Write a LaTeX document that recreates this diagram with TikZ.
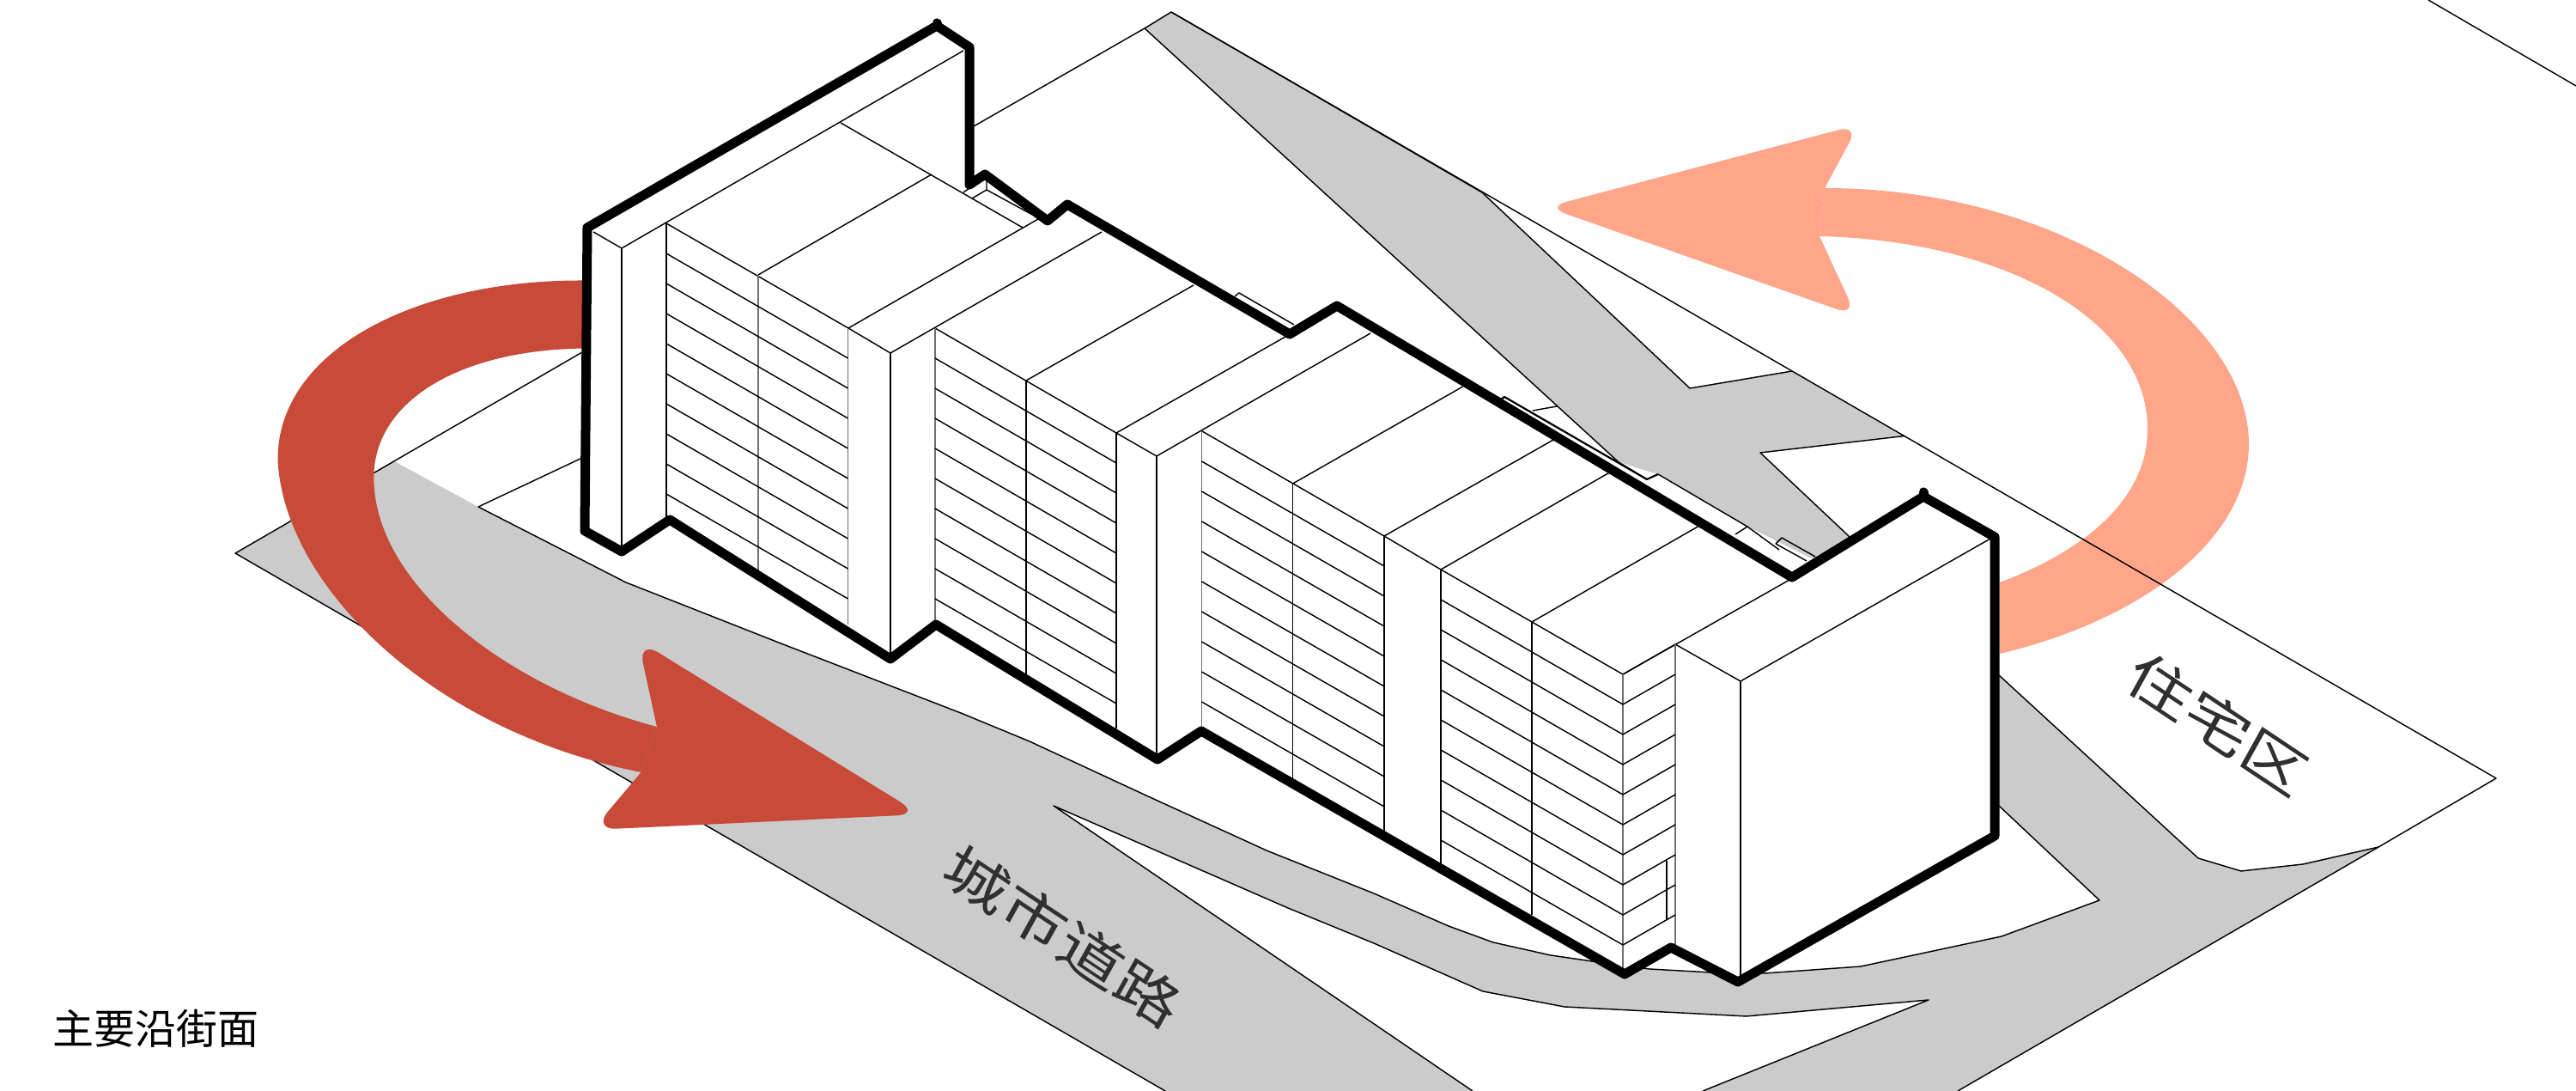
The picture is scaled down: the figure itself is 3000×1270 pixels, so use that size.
\documentclass[tikz,border=0pt]{standalone}
\usepackage{fontspec}
\newfontfamily\cjk{Noto Sans CJK SC}
\definecolor{roadgray}{HTML}{CBCBCB}
\definecolor{redarrow}{HTML}{C84A38}
\definecolor{peach}{HTML}{FFA58A}
\definecolor{faint}{HTML}{707070}
\definecolor{labelink}{HTML}{303030}
\tikzset{
  thin line/.style={draw=black,line width=0.36pt,line join=round},
  faint line/.style={draw=faint,line width=0.36pt},
  thick outline/.style={draw=black,line width=2.75pt,line join=round,line cap=round},
  iso label/.style={font=\cjk\fontsize{12}{12}\selectfont,text=labelink,inner sep=0pt,cm={1.38,-0.92,0.64,1.15,(0,0)}},
}
\begin{document}
\begin{tikzpicture}[x=0.25pt,y=-0.25pt]
\useasboundingbox (0,0) rectangle (3000,1270);
\fill[white] (0,0) rectangle (3000,1270);
% roads
\fill[roadgray] (274,644)--(459,537)--(557,590)--(729,678)--(912,750)--(1119,830)--(1199,863)--(1337,927)--(1475,990)--(1600,1040)--(1687,1078)--(1739,1097)--(1806,1112)--(1868,1121)--(1921,1128)--(1993,1132)--(2055,1133)--(2167,1125)--(2331,1090)--(2445,1048)--(2328,938)--(2328,786)--(2560,999)--(2610,1014)--(2682,1006)--(2770,986)--(2280,1270)--(1983,1270)--(2246,1164)--(2034,1183)--(1822,1172)--(1727,1154)--(1600,1098)--(1500,1057)--(1227,938)--(1715,1270)--(1357,1270)--cycle;
\fill[roadgray] (1364,14)--(1726,224)--(1968,452)--(2087,432)--(2218,507.5)--(2050,527)--(2154,625)--(2114,652)--(2035,613)--(1931,552)--(1885,538)--(1333,33)--cycle;
% peach arrow
\fill[peach] (2125,219) .. controls (2400,219) and (2619,370) .. (2619,517) .. controls (2619,625) and (2500,720) .. (2329,761) -- (2329,678) .. controls (2430,640) and (2501,580) .. (2501,499.5) .. controls (2501,370) and (2330,280) .. (2119,275) -- cycle;
\fill[peach] (2119,275) [rounded corners=6pt] -- (2162,368) -- (1801,241) -- (2165,145) [sharp corners] -- (2125,219) -- cycle;
% site lines
\draw[thin line] (1134,147)--(1333,33)--(1364,14)--(2907,906)--(2770,986)--(2280,1270);
\draw[thin line] (2828,0)--(3000,100);
\draw[thin line] (678,410)--(274,644)--(1357,1270);
\draw[thin line] (678,533)--(557,590)--(729,678)--(912,750)--(1119,830)--(1199,863)--(1337,927)--(1475,990)--(1600,1040)--(1687,1078)--(1739,1097)--(1806,1112)--(1868,1121)--(1921,1128)--(1993,1132)--(2055,1133)--(2167,1125)--(2331,1090)--(2445,1048)--(2328,938);
\draw[thin line] (2328,786)--(2560,999)--(2610,1014)--(2682,1006)--(2770,986);
\draw[thin line] (1983,1270)--(2246,1164)--(2034,1183)--(1822,1172)--(1727,1154)--(1600,1098)--(1500,1057)--(1227,938)--(1715,1270);
\draw[thin line] (1364,14)--(1726,224)--(1968,452)--(2087,432);
\draw[thin line] (2218,507.5)--(2050,527)--(2154,625);
\draw[thin line] (1333,33)--(1885,538)--(1918,558);
\draw[thin line] (1931,552)--(2035,613)--(2072,640);
\draw[thin line] (1785,478)--(1813,473);
% red arrow
\fill[redarrow] (678,326.5) .. controls (480,326) and (323,410) .. (323.5,535) .. controls (330,680) and (500,850) .. (746.6,899) -- (765,846) .. controls (590,800) and (435,680) .. (435.4,556) .. controls (435,470) and (530,408) .. (678,405.6) -- cycle;
\fill[redarrow] (765,846) [rounded corners=7pt] -- (743,745) -- (1072,948) -- (690,966) [sharp corners] -- (746.6,899) -- cycle;
% building silhouette
\fill[white] (684,265)--(1091,30)--(1129,55)--(1129,215)--(1147,203)--(1220,257)--(1243,238)--(1502,389)--(1557,356)--(2087,672)--(2240,578)--(2323,625)--(2323,973)--(2024,1143)--(1946,1103)--(1892,1134)--(1399,851)--(1348,884)--(1090,727)--(1037,767)--(780,605)--(724,642)--(681,618)--cycle;
% roof and corner edges
\draw[thin line] (691,270)--(724,289)--(1122,59);
\draw[thin line] (979,143)--(1191,265);
\draw[thin line] (776,260)--(988,382)--(1037,411)--(1283,270);
\draw[thin line] (883,320)--(1085,203);
\draw[thin line] (988,382)--(1209,255);
\draw[thin line] (1089,382)--(1300,504)--(1347,531)--(1596,388);
\draw[thin line] (1195,443)--(1390,332);
\draw[thin line] (1300,504)--(1497,392);
\draw[thin line] (1400,502)--(1612,624)--(1678,663)--(1890,785);
\draw[thin line] (1505.6,563)--(1703.6,450);
\draw[thin line] (1612,624)--(1809,512);
\draw[thin line] (1678,663)--(1874.5,550);
\draw[thin line] (1784,724)--(1979,612);
\draw[thin line] (1890,785)--(2084,675);
\draw[thin line] (1890,785)--(1951,750)--(2027,793)--(2318,627);
% verticals
\foreach \xv/\ya/\yb in {724/289/640,776/260/605,1037/411/767,1195/443/786,1300/504/848,1347/531/880,1505.6/563/907,1612/624/973,1678/663/1011,1784/724/1065,2027/793/1143,1941/1002/1071}
  \draw[thin line] (\xv,\ya)--(\xv,\yb);
\foreach \xv/\ya/\yb in {883/320/664,987.5/382/727,1089/382/727,1399.5/502/851,1890/785/1133,1951/750/1103}
  \draw[faint line] (\xv,\ya)--(\xv,\yb);
% floor lines
\foreach \k in {1,...,9}{
  \draw[thin line] (776,{260+35*\k})--(987.5,{382+35*\k});
  \draw[thin line] (1089,{382+35*\k})--(1300,{504+35*\k});
  \draw[thin line] (1399.5,{502+35*\k})--(1612,{624+35*\k});
  \draw[thin line] (1678,{663+35*\k})--(1890,{785+35*\k});
  \draw[thin line] (1890,{785+35*\k})--(1951,{750+35*\k});
}
% rear details
\draw[thin line] (1122,224)--(1137,213);
\draw[thin line] (1132,231)--(1149,221)--(1149,210);
\draw[thin line] (1149,221)--(1206,252);
\draw[thin line] (1438,345)--(1443,341)--(1507,378);
\draw[thin line,line width=0.55pt] (1748,465)--(1752,462)--(1918,558)--(1931,552);
\draw[thin line] (2021,622)--(2035,613);
\draw[thin line] (2068,633)--(2075,626)--(2114,648);
\draw[thin line] (2068,633)--(2104,653);
% thick outline
\draw[thick outline] (684,265)--(1091,30)--(1129,55)--(1129,215)--(1147,203)--(1220,257)--(1243,238)--(1502,389)--(1557,356)--(2087,672)--(2240,578)--(2323,625)--(2323,973)--(2024,1143)--(1946,1103)--(1892,1134)--(1399,851)--(1348,884)--(1090,727)--(1037,767)--(780,605)--(724,642)--(681,618)--cycle;
\draw[thick outline] (1091,30)--(1091,27);
\draw[thick outline] (2240,578)--(2240,573);
% labels
\node[iso label] (road) at (1238,1090) {城市道路};
\node[iso label] (housing) at (2583,842) {住宅区};
\node[anchor=west,inner sep=0pt,font=\cjk\fontsize{12}{12}\selectfont,text=black] (caption) at (61,1197) {主要沿街面};
\end{tikzpicture}
\end{document}
